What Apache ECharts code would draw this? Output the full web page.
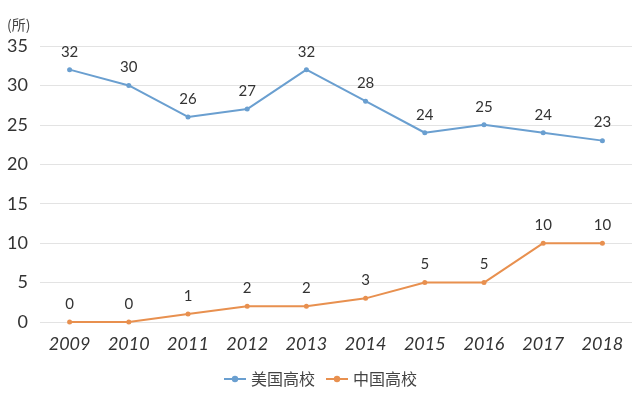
<!DOCTYPE html>
<html><head><meta charset="utf-8">
<script src="https://cdn.jsdelivr.net/npm/echarts@6/dist/echarts.min.js"></script>
<style>html,body{margin:0;padding:0;background:#fff}#c{width:640px;height:396px}</style>
</head><body><div id="c"></div>
<script>
const years = ['2009','2010','2011','2012','2013','2014','2015','2016','2017','2018'];
const usValues = [32,30,26,27,32,28,24,25,24,23];
const cnValues = [0,0,1,2,2,3,5,5,10,10];
const seriesNames = ['美国高校','中国高校'];
const chart = echarts.init(document.getElementById('c'));
const font = 'Lato, "Noto Sans CJK SC", sans-serif';
chart.setOption({
  animation:false,
  grid:{left:40,right:8,top:46,bottom:74},
  legend:{bottom:4,left:'center',itemWidth:22,itemHeight:8,itemGap:10,
    textStyle:{fontSize:16,color:'#444',fontFamily:'"Noto Sans CJK SC", sans-serif'},
    data:seriesNames},
  xAxis:{type:'category',data:years,boundaryGap:true,
    axisLine:{show:false},axisTick:{show:false},
    axisLabel:{fontSize:18,fontStyle:'italic',color:'#333',margin:13,fontFamily:font}},
  yAxis:{type:'value',min:0,max:35,interval:5,name:'(所)',
    nameLocation:'end',nameGap:14,nameTextStyle:{fontSize:14,color:'#444',align:'left',padding:[0,0,0,-33],fontFamily:'"Noto Sans CJK SC", sans-serif'},
    axisLine:{show:false},axisTick:{show:false},
    axisLabel:{fontSize:18,color:'#333',margin:12,fontFamily:font},
    splitLine:{lineStyle:{color:'#e3e3e3',width:1}}},
  series:[
    {name:seriesNames[0],type:'line',data:usValues,symbol:'circle',symbolSize:5,
     lineStyle:{color:'#6a9fd0',width:2},itemStyle:{color:'#6a9fd0'},
     label:{show:true,position:'top',distance:8,fontSize:15,color:'#333',fontFamily:font}},
    {name:seriesNames[1],type:'line',data:cnValues,symbol:'circle',symbolSize:5,
     lineStyle:{color:'#e8904f',width:2},itemStyle:{color:'#e8904f'},
     label:{show:true,position:'top',distance:8,fontSize:15,color:'#333',fontFamily:font}}
  ]
});
</script></body></html>
